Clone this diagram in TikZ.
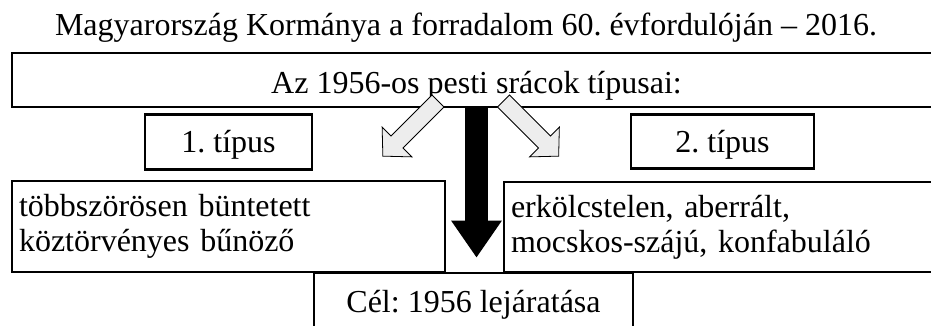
\documentclass[tikz,border=0pt]{standalone}
\usepackage{fontspec}
\setmainfont{Liberation Serif}
\usepackage{tikz}
\usetikzlibrary{positioning,arrows.meta}
\definecolor{arrowgray}{HTML}{EDEDED}
\frenchspacing

\begin{document}
\begin{tikzpicture}[x=1pt, y=-1pt, >=Stealth,
    every node/.style={font=\fontsize{32pt}{35pt}\selectfont, inner sep=0pt},
    box/.style={rectangle, draw, line width=2.6pt, text height=21.5pt, text depth=0pt},
    textbox/.style={rectangle, draw, line width=2.6pt, align=left, inner xsep=7pt},
    grayarrow/.style={draw, fill=arrowgray, line width=0.8pt, line join=miter}]

\useasboundingbox (0,0) rectangle (931,325);

\node[anchor=base] (title) at (466,35) {Magyarország Kormánya a forradalom 60. évfordulóján – 2016.};
\node[box, minimum width=929pt, minimum height=54pt, text height=26pt] (types) at (476.5,80) {Az 1956-os pesti srácok típusai:};

\node[textbox, minimum height=91pt, text width=419pt] (crim) at (228.5,226.5) {többszörösen büntetett\\köztörvényes bűnöző};
\node[box, minimum width=167pt, minimum height=55pt] (typeA) [above=9pt of crim] {1. típus};

\node[textbox, minimum height=90pt, text width=426pt] (immoral) at (724,227) {erkölcstelen, aberrált,\\mocskos-szájú, konfabuláló};
\node[box, minimum width=183pt, minimum height=54pt] (typeB) [above right=11pt and 127pt of immoral.north west] {2. típus};

\node[box, minimum width=319pt, minimum height=57pt] (goal) at (473.5,301.5) {Cél: 1956 lejáratása};

\draw[line width=23pt, -{Triangle[width=48pt,length=37pt]}, shorten >=14pt]
  (types.south) -- (types.south |- goal.north);

\begin{scope}[shift={(438,101)}, rotate=225]
  \path[grayarrow] (0,-8.5) -- (58,-8.5) -- (58,-21) -- (78,0) -- (58,21) -- (58,8.5) -- (0,8.5) -- cycle;
\end{scope}
\begin{scope}[shift={(503.5,101)}, rotate=-45]
  \path[grayarrow] (0,-8.5) -- (58,-8.5) -- (58,-21) -- (78,0) -- (58,21) -- (58,8.5) -- (0,8.5) -- cycle;
\end{scope}
\end{tikzpicture}
\end{document}
